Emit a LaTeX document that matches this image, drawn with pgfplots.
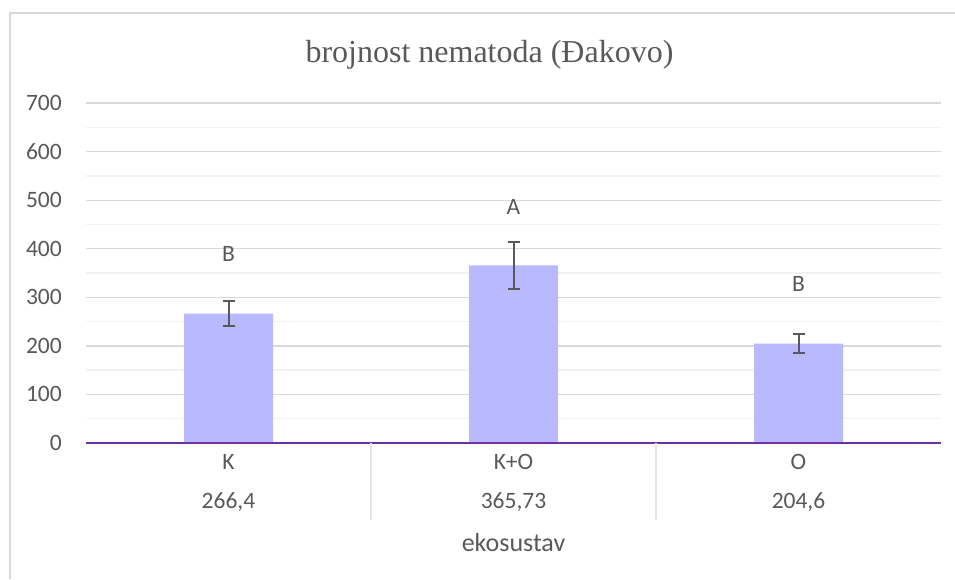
\documentclass[border=0pt]{standalone}
\usepackage{fontspec}
\setmainfont{Carlito}
\newfontfamily\titlefont{Liberation Serif}
\usepackage{pgfplots}
\pgfplotsset{compat=1.18}
\definecolor{txt}{HTML}{595959}
\definecolor{barc}{HTML}{B8B9FE}
\definecolor{axc}{HTML}{7030A0}
\definecolor{majg}{HTML}{D9D9D9}
\definecolor{ming}{HTML}{F2F2F2}
\definecolor{sepg}{HTML}{E3E3E3}
\begin{document}
\begin{tikzpicture}[x=1pt,y=1pt]
\useasboundingbox (-86,-136) rectangle (869,443);
\draw[majg, line width=1.3pt] (-76,-136) -- (-76,430) -- (869,430);
\node[anchor=base, font=\titlefont\fontsize{32}{38}\selectfont, text=txt] at (403.5,380) {brojnost nematoda (Đakovo)};
\begin{axis}[
  scale only axis, width=855pt, height=340pt,
  xmin=-0.5, xmax=2.5, ymin=0, ymax=700,
  clip=false,
  ytick={0,100,...,700}, minor ytick={50,150,...,650},
  ymajorgrids, yminorgrids,
  major grid style={majg, line width=1.3pt},
  minor grid style={ming, line width=1.3pt},
  axis line style={draw=none},
  tick style={draw=none},
  /pgf/number format/assume math mode=true,
  yticklabel style={font=\fontsize{23.5}{28.2}\selectfont, text=txt, anchor=east, inner sep=0pt, xshift=-24pt},
  xtick={0,1,2},
  xticklabels={{K\\[10.8pt]266,4},{K+O\\[10.8pt]365,73},{O\\[10.8pt]204,6}},
  xticklabel style={font=\fontsize{23.5}{28.2}\selectfont, text=txt, align=center, anchor=north, inner sep=0pt, yshift=-11pt},
  xlabel={ekosustav},
  xlabel style={at={(axis description cs:0.5,0)}, anchor=base, yshift=-108.7pt, font=\fontsize{26}{31}\selectfont, text=txt},
]
\addplot[ybar, bar width=89pt, fill=barc, draw=none,
  error bars/.cd, y dir=both, y explicit,
  error bar style={txt, line width=2pt},
  error mark options={rotate=90, mark size=6pt, line width=2pt, txt}]
  coordinates {(0,266.4) +- (0,25) (1,365.73) +- (0,49) (2,204.6) +- (0,20)};
\addplot[draw=none, mark=none, nodes near coords, point meta=explicit symbolic,
  every node near coord/.append style={anchor=center, font=\fontsize{23.5}{28.2}\selectfont, text=txt}]
  coordinates {(0,389)[B] (1,486)[A] (2,328)[B]};
\draw[axc, line width=2.5pt] (axis cs:-0.5,0) -- (axis cs:2.5,0);
\draw[sepg, line width=1.3pt] (axis cs:0.5,0) -- ([yshift=-77pt]axis cs:0.5,0);
\draw[sepg, line width=1.3pt] (axis cs:1.5,0) -- ([yshift=-77pt]axis cs:1.5,0);
\end{axis}
\end{tikzpicture}
\end{document}
